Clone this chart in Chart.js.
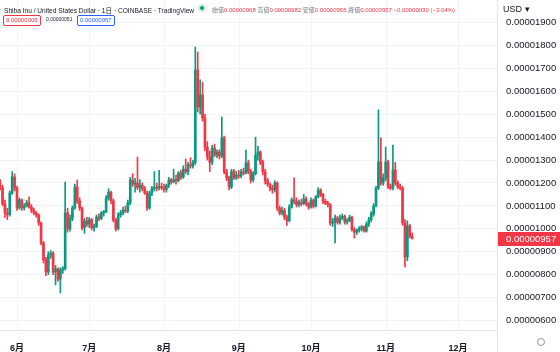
<!DOCTYPE html>
<html>
<head>
<meta charset="utf-8">
<script src="https://cdn.jsdelivr.net/npm/chart.js@4.4.1/dist/chart.umd.min.js"></script>
<style>
  html, body { margin: 0; padding: 0; background: #fff; }
  #wrap { position: relative; width: 560px; height: 352px; font-family: "Liberation Sans", "Noto Sans CJK JP", sans-serif; color: #131722; }
  #chart { position: absolute; left: 0; top: 0; }
  .abs { position: absolute; white-space: nowrap; }
  #title { left: 4px; top: 5px; font-size: 6.6px; }
  #dot { left: 200px; top: 6px; width: 4px; height: 4px; border-radius: 50%; background: #089981; box-shadow: 0 0 0 2px rgba(8,153,129,.18); }
  #ohlc { left: 212px; top: 5px; font-size: 6px; color: #f23645; }
  #ohlc b { font-weight: normal; color: #787b86; }
  .box { top: 15px; height: 9px; line-height: 9px; font-size: 6px; padding: 0 2px; border: 1px solid; border-radius: 2px; }
  #sell { left: 3px; border-color: #f23645; color: #f23645; }
  #spread { left: 46px; top: 16px; font-size: 5px; }
  #buy { left: 77px; border-color: #2962ff; color: #2962ff; }
  #usd { left: 503px; top: 4px; font-size: 9px; }
  #gear { left: 537px; top: 338px; width: 6px; height: 6px; border: 1px solid #9598a1; border-radius: 50%; }
</style>
</head>
<body>
<div id="wrap">
  <canvas id="chart" width="560" height="352"></canvas>
  <div class="abs" id="title">Shiba Inu / United States Dollar · 1日 · COINBASE · TradingView</div>
  <div class="abs" id="dot"></div>
  <div class="abs" id="ohlc"><b>始値</b>0.00000968 <b>高値</b>0.00000982 <b>安値</b>0.00000955 <b>終値</b>0.00000957 −0.00000030 (−3.04%)</div>
  <div class="abs box" id="sell">0.00000906</div>
  <div class="abs" id="spread">0.00000051</div>
  <div class="abs box" id="buy">0.00000957</div>
  <div class="abs" id="usd">USD ▾</div>
  <div class="abs" id="gear"></div>
</div>
<script>
// day numbers are counted from 2022-06-01; first candle is 2022-05-25
const firstDay = -7;
const monthStarts = [0, 30, 61, 92, 122, 153, 183];
const monthLabels = ["6月", "7月", "8月", "9月", "10月", "11月", "12月"];
const priceTicks = [600, 700, 800, 900, 1000, 1100, 1200, 1300, 1400, 1500, 1600, 1700, 1800, 1900];

// daily prices, in units of 0.00000001 USD
const open = [
  1200, 1178, 1110, 1069, 1062, 1156, 1226, 1178, 1091, 1126,
  1091, 1100, 1113, 1095, 1080, 1069, 1060, 1025, 938, 864,
  811, 886, 893, 811, 825, 780, 820, 826, 1069, 1000,
  1045, 1091, 1182, 1122, 1091, 1004, 1034, 1020, 1040, 1004,
  1010, 1051, 1045, 1069, 1075, 1134, 1160, 1122, 1038, 1000,
  1060, 1069, 1082, 1078, 1113, 1213, 1195, 1200, 1180, 1190,
  1175, 1156, 1091, 1156, 1175, 1180, 1178, 1185, 1180, 1172,
  1190, 1213, 1205, 1215, 1210, 1243, 1225, 1260, 1250, 1280,
  1275, 1290, 1693, 1532, 1584, 1484, 1357, 1313, 1290, 1353,
  1322, 1335, 1318, 1397, 1248, 1222, 1183, 1250, 1222, 1235,
  1230, 1248, 1243, 1287, 1250, 1213, 1240, 1322, 1335, 1290,
  1250, 1210, 1195, 1178, 1170, 1200, 1090, 1069, 1080, 1050,
  1035, 1095, 1126, 1120, 1105, 1115, 1110, 1130, 1110, 1095,
  1125, 1098, 1140, 1169, 1150, 1120, 1112, 1105, 1025, 1030,
  1047, 1028, 1047, 1055, 1030, 1035, 1050, 996, 985, 995,
  1000, 1008, 990, 1020, 1040, 1065, 1100, 1178, 1292, 1200,
  1222, 1292, 1183, 1178, 1257, 1200, 1183, 1178, 1025, 877,
  1012, 968
];
const high = [
  1215, 1190, 1125, 1090, 1165, 1250, 1240, 1185, 1135, 1130,
  1110, 1125, 1140, 1105, 1090, 1075, 1065, 1030, 945, 875,
  900, 905, 900, 840, 830, 830, 835, 1204, 1090, 1060,
  1100, 1195, 1213, 1135, 1095, 1045, 1050, 1050, 1045, 1020,
  1060, 1065, 1075, 1080, 1145, 1175, 1165, 1130, 1045, 1070,
  1080, 1095, 1100, 1125, 1225, 1240, 1220, 1313, 1215, 1200,
  1185, 1165, 1165, 1185, 1250, 1200, 1255, 1200, 1195, 1195,
  1225, 1220, 1260, 1235, 1250, 1255, 1275, 1305, 1290, 1310,
  1300, 1794, 1772, 1650, 1640, 1500, 1380, 1340, 1365, 1370,
  1345, 1345, 1488, 1405, 1260, 1230, 1260, 1260, 1250, 1255,
  1260, 1265, 1344, 1300, 1260, 1250, 1400, 1360, 1340, 1300,
  1260, 1220, 1200, 1190, 1210, 1205, 1100, 1095, 1090, 1060,
  1105, 1135, 1222, 1135, 1125, 1130, 1150, 1140, 1115, 1135,
  1130, 1145, 1180, 1175, 1155, 1130, 1120, 1110, 1045, 1060,
  1055, 1060, 1065, 1060, 1045, 1060, 1055, 1005, 1000, 1010,
  1015, 1012, 1030, 1050, 1075, 1110, 1185, 1519, 1397, 1240,
  1357, 1300, 1195, 1366, 1290, 1210, 1195, 1185, 1040, 1035,
  1020, 982
];
const low = [
  1170, 1100, 1050, 1040, 1055, 1150, 1165, 1080, 1085, 1080,
  1082, 1095, 1090, 1070, 1060, 1050, 1015, 930, 850, 795,
  800, 870, 800, 755, 770, 720, 805, 820, 985, 990,
  1035, 1085, 1110, 1080, 995, 980, 1010, 1005, 995, 990,
  1005, 1035, 1040, 1055, 1070, 1125, 1110, 1030, 990, 995,
  1050, 1060, 1070, 1070, 1105, 1185, 1160, 1170, 1160, 1165,
  1150, 1080, 1085, 1145, 1165, 1165, 1170, 1170, 1160, 1160,
  1180, 1195, 1200, 1195, 1205, 1215, 1220, 1240, 1235, 1265,
  1265, 1280, 1510, 1500, 1470, 1340, 1300, 1250, 1280, 1315,
  1310, 1305, 1310, 1240, 1210, 1170, 1175, 1215, 1215, 1220,
  1222, 1235, 1240, 1240, 1200, 1205, 1235, 1300, 1280, 1235,
  1195, 1185, 1165, 1155, 1160, 1080, 1060, 1060, 1040, 1015,
  1030, 1090, 1110, 1095, 1095, 1100, 1105, 1100, 1085, 1090,
  1090, 1095, 1135, 1140, 1110, 1105, 1095, 1015, 1010, 938,
  1020, 1020, 1040, 1020, 1020, 1030, 990, 960, 975, 985,
  990, 985, 985, 1010, 1030, 1055, 1095, 1170, 1190, 1190,
  1210, 1175, 1170, 1170, 1190, 1175, 1170, 1015, 833, 860,
  960, 955
];
const close = [
  1178, 1110, 1069, 1062, 1156, 1226, 1178, 1091, 1126, 1091,
  1100, 1113, 1095, 1080, 1069, 1060, 1025, 938, 864, 811,
  886, 893, 811, 825, 780, 820, 826, 1069, 1000, 1045,
  1091, 1182, 1122, 1091, 1004, 1034, 1020, 1040, 1004, 1010,
  1051, 1045, 1069, 1075, 1134, 1160, 1122, 1038, 1000, 1060,
  1069, 1082, 1078, 1113, 1213, 1195, 1200, 1180, 1190, 1175,
  1156, 1091, 1156, 1175, 1180, 1178, 1185, 1180, 1172, 1190,
  1213, 1205, 1215, 1210, 1243, 1225, 1260, 1250, 1280, 1275,
  1290, 1693, 1532, 1584, 1484, 1357, 1313, 1290, 1353, 1322,
  1335, 1318, 1397, 1248, 1222, 1183, 1250, 1222, 1235, 1230,
  1248, 1243, 1287, 1250, 1213, 1240, 1322, 1335, 1290, 1250,
  1210, 1195, 1178, 1170, 1200, 1090, 1069, 1080, 1050, 1035,
  1095, 1126, 1120, 1105, 1115, 1110, 1130, 1110, 1095, 1125,
  1098, 1140, 1169, 1150, 1120, 1112, 1105, 1025, 1030, 1047,
  1028, 1047, 1055, 1030, 1035, 1050, 996, 985, 995, 1000,
  1008, 990, 1020, 1040, 1065, 1100, 1178, 1292, 1200, 1222,
  1292, 1183, 1178, 1257, 1200, 1183, 1178, 1025, 877, 1012,
  968, 957
];

const UP = "#089981", DOWN = "#f23645";
const GRID = "#f0f3fa", BORDER = "#e0e3eb";
const candleColor = open.map((o, k) => (close[k] >= o ? UP : DOWN));
const fmt = v => (v / 1e8).toFixed(8);

// vertical month lines under the candles, at the month label positions
const monthGridPlugin = {
  id: "monthGrid",
  beforeDatasetsDraw(chart) {
    const { ctx, chartArea, scales } = chart;
    ctx.save();
    ctx.strokeStyle = GRID;
    ctx.lineWidth = 1;
    ctx.beginPath();
    monthStarts.forEach(d => {
      const x = Math.round(scales.x.getPixelForValue(d)) + 0.5;
      ctx.moveTo(x, 0);
      ctx.lineTo(x, chartArea.bottom);
    });
    ctx.stroke();
    ctx.restore();
  }
};

const lastPricePlugin = {
  id: "lastPrice",
  afterDraw(chart) {
    const { ctx, chartArea, scales } = chart;
    const last = close[close.length - 1];
    const y = Math.round(scales.y.getPixelForValue(last));
    ctx.save();
    // axis separator running into the time-axis row
    ctx.strokeStyle = BORDER;
    ctx.lineWidth = 1;
    ctx.beginPath();
    ctx.moveTo(chartArea.right + 0.5, 0);
    ctx.lineTo(chartArea.right + 0.5, chart.height);
    ctx.stroke();
    ctx.fillStyle = DOWN;
    ctx.fillRect(chartArea.right + 1, y - 7, chart.width - chartArea.right - 1, 14);
    ctx.fillStyle = "#fff";
    ctx.font = "9.5px 'Liberation Sans', sans-serif";
    ctx.textBaseline = "middle";
    ctx.fillText(fmt(last), chartArea.right + 9, y + 0.5);
    ctx.restore();
  }
};

new Chart(document.getElementById("chart"), {
  type: "bar",
  data: {
    datasets: [
      {
        label: "wick",
        data: open.map((o, k) => ({ x: firstDay + k, y: [low[k], high[k]] })),
        backgroundColor: candleColor,
        barThickness: 1,
        grouped: false,
        order: 2
      },
      {
        label: "body",
        data: open.map((o, k) => ({ x: firstDay + k, y: [o, close[k]] })),
        backgroundColor: candleColor,
        barThickness: 2,
        minBarLength: 1,
        grouped: false,
        order: 1
      }
    ]
  },
  options: {
    responsive: false,
    animation: false,
    layout: { padding: 0 },
    plugins: { legend: { display: false }, tooltip: { enabled: false } },
    scales: {
      x: {
        type: "linear",
        min: -7.05,
        max: 199.2,
        offset: false,
        afterBuildTicks: s => { s.ticks = monthStarts.map(v => ({ value: v })); },
        afterFit: s => { s.height = 22; s.paddingLeft = 0; s.paddingRight = 0; },
        grid: { display: false },
        border: { color: BORDER },
        ticks: {
          autoSkip: false,
          maxRotation: 0,
          padding: 5,
          color: "#131722",
          font: { family: "'Liberation Sans', 'Noto Sans CJK JP', sans-serif", size: 9, weight: "bold" },
          callback: v => monthLabels[monthStarts.indexOf(v)]
        }
      },
      y: {
        position: "right",
        min: 558,
        max: 1999,
        afterBuildTicks: s => { s.ticks = priceTicks.map(v => ({ value: v })); },
        afterFit: s => { s.width = 63; s.paddingTop = 0; s.paddingBottom = 0; },
        grid: { color: GRID, drawTicks: false },
        border: { color: BORDER },
        ticks: {
          padding: 9,
          color: "#131722",
          font: { family: "'Liberation Sans', sans-serif", size: 9.5 },
          callback: v => fmt(v)
        }
      }
    }
  },
  plugins: [monthGridPlugin, lastPricePlugin]
});
</script>
</body>
</html>
